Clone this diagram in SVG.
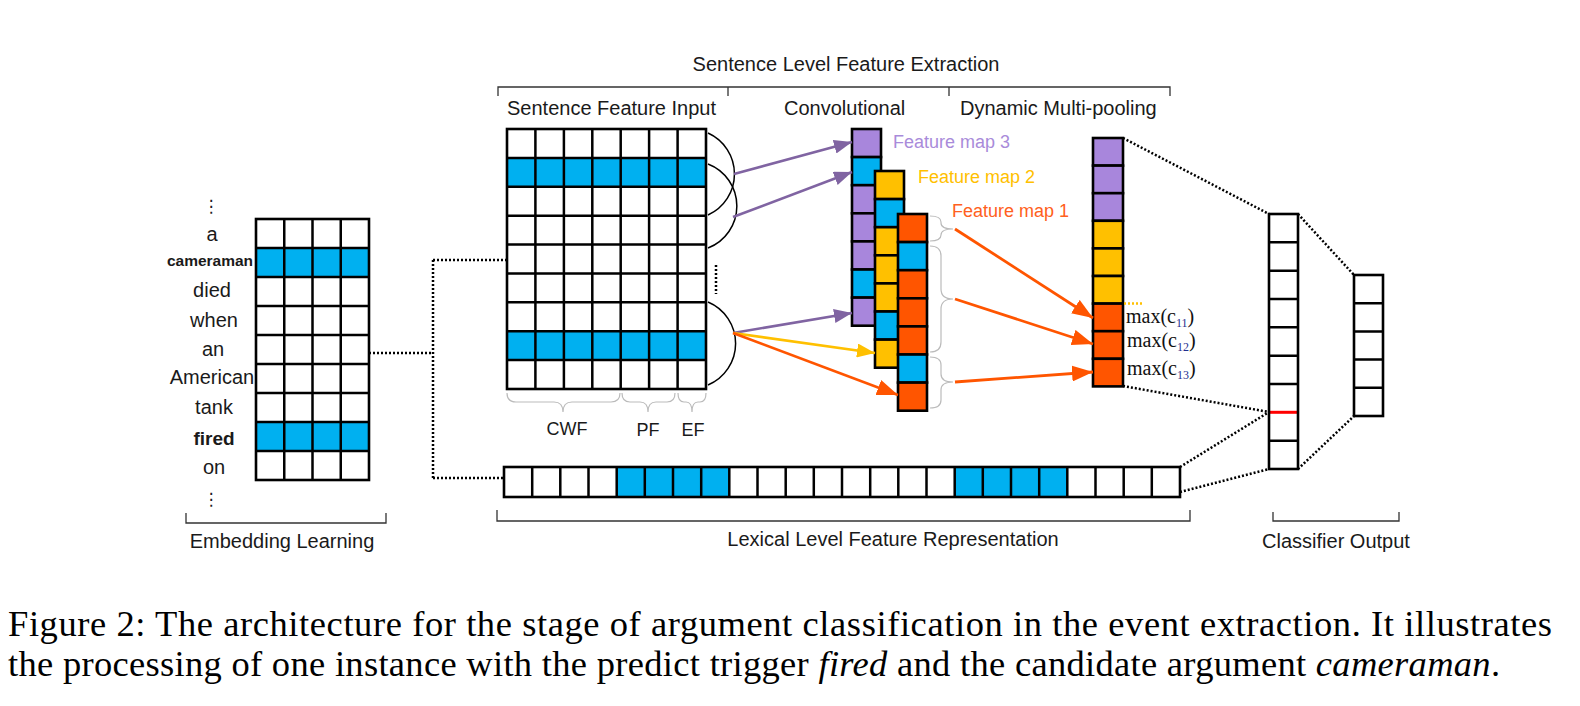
<svg xmlns="http://www.w3.org/2000/svg" width="1580" height="706" viewBox="0 0 1580 706">
<style>
.cell{stroke:#000;stroke-width:2.6}
.grid{stroke:#000;stroke-width:2.5;fill:none}
.lbl{font-family:"Liberation Sans",Arial,sans-serif;font-size:20px;fill:#1a1a1a}
.word{font-family:"Liberation Sans",Arial,sans-serif;font-size:20px;fill:#1a1a1a;text-anchor:middle}
.fm{font-family:"Liberation Sans",Arial,sans-serif;font-size:18px}
.mx{font-family:"Liberation Serif","Times New Roman",serif;font-size:20px;fill:#111}
.sub{font-size:12px;fill:#1f2f8f}
.dot{stroke:#000;stroke-width:2.5;stroke-dasharray:2 2;fill:none}
.br{stroke:#333;stroke-width:1.3;fill:none}
.gb{stroke:#bbb;stroke-width:1.2;fill:none}
.arc{stroke:#000;stroke-width:1.5;fill:none}
.cap{font-family:"Liberation Serif","Times New Roman",serif;font-size:36.5px;fill:#000}
.P{fill:#A886DC}.B{fill:#00B0F0}.Y{fill:#FFC000}.O{fill:#FF5500}.W{fill:#fff}
</style>
<defs>
<marker id="ahP" markerUnits="userSpaceOnUse" markerWidth="18" markerHeight="14" refX="18" refY="7" orient="auto" viewBox="0 0 18 14"><path d="M0,0L18,7L0,14z" fill="#8064A2"/></marker>
<marker id="ahY" markerUnits="userSpaceOnUse" markerWidth="18" markerHeight="14" refX="18" refY="7" orient="auto" viewBox="0 0 18 14"><path d="M0,0L18,7L0,14z" fill="#FFC000"/></marker>
<marker id="ahO" markerUnits="userSpaceOnUse" markerWidth="21" markerHeight="16" refX="21" refY="8" orient="auto" viewBox="0 0 21 16"><path d="M0,0L21,8L0,16z" fill="#FF5500"/></marker>
</defs>
<rect width="1580" height="706" fill="#fff"/>

<g id="embedding">
<rect x="256" y="219" width="113" height="261" class="W"/>
<rect x="256" y="248" width="113" height="29" class="B"/>
<rect x="256" y="422" width="113" height="29" class="B"/>
<path class="grid" d="M284.25,219V480M312.5,219V480M340.75,219V480M256,248H369M256,277H369M256,306H369M256,335H369M256,364H369M256,393H369M256,422H369M256,451H369"/>
<rect x="256" y="219" width="113" height="261" fill="none" class="cell"/>
<text class="word" x="211" y="212" style="font-family:'DejaVu Sans',sans-serif;font-size:17px">⋮</text>
<text class="word" x="212" y="241">a</text>
<text class="word" x="210" y="266" style="font-weight:bold;font-size:15.5px">cameraman</text>
<text class="word" x="212" y="297">died</text>
<text class="word" x="214" y="327">when</text>
<text class="word" x="213" y="356">an</text>
<text class="word" x="212" y="384">American</text>
<text class="word" x="214" y="414">tank</text>
<text class="word" x="214" y="445" style="font-weight:bold;font-size:19px">fired</text>
<text class="word" x="214" y="474">on</text>
<text class="word" x="211" y="505" style="font-family:'DejaVu Sans',sans-serif;font-size:17px">⋮</text>
</g>

<g id="sentence-input">
<rect x="507" y="129" width="199" height="260" class="W"/>
<rect x="507" y="157.9" width="199" height="28.9" class="B"/>
<rect x="507" y="331.2" width="199" height="28.9" class="B"/>
<path class="grid" d="M535.4,129V389M563.9,129V389M592.3,129V389M620.7,129V389M649.1,129V389M677.6,129V389M507,157.9H706M507,186.8H706M507,215.7H706M507,244.6H706M507,273.4H706M507,302.3H706M507,331.2H706M507,360.1H706"/>
<rect x="507" y="129" width="199" height="260" fill="none" class="cell"/>
<path class="gb" d="M507,393Q507,402 516,402L554,402Q563,402 563,412Q563,402 572,402L611,402Q620,402 620,393"/>
<path class="gb" d="M622,393Q622,402 630,402L640,402Q648,402 648,412Q648,402 656,402L667,402Q675,402 675,393"/>
<path class="gb" d="M678,393Q678,402 684,402L686,402Q692,402 692,412Q692,402 698,402L700,402Q706,402 706,393"/>
<text class="lbl" x="567" y="435" text-anchor="middle" style="font-size:18px">CWF</text>
<text class="lbl" x="648" y="436" text-anchor="middle" style="font-size:18px">PF</text>
<text class="lbl" x="693" y="436" text-anchor="middle" style="font-size:18px">EF</text>
</g>

<g id="feature-map-3">
<rect class="cell P" x="852" y="129" width="29" height="28.1"/>
<rect class="cell B" x="852" y="157.1" width="29" height="28.1"/>
<rect class="cell P" x="852" y="185.2" width="29" height="28.1"/>
<rect class="cell P" x="852" y="213.3" width="29" height="28.1"/>
<rect class="cell P" x="852" y="241.4" width="29" height="28.1"/>
<rect class="cell B" x="852" y="269.5" width="29" height="28.1"/>
<rect class="cell P" x="852" y="297.6" width="29" height="28.1"/>
<text class="fm" x="893" y="148" fill="#A98BDA">Feature map 3</text>
</g>
<g id="feature-map-2">
<rect class="cell Y" x="875" y="171" width="29" height="28.1"/>
<rect class="cell B" x="875" y="199.1" width="29" height="28.1"/>
<rect class="cell Y" x="875" y="227.2" width="29" height="28.1"/>
<rect class="cell Y" x="875" y="255.3" width="29" height="28.1"/>
<rect class="cell Y" x="875" y="283.4" width="29" height="28.1"/>
<rect class="cell B" x="875" y="311.5" width="29" height="28.1"/>
<rect class="cell Y" x="875" y="339.6" width="29" height="28.1"/>
<text class="fm" x="918" y="183" fill="#FFC000">Feature map 2</text>
</g>
<g id="feature-map-1">
<rect class="cell O" x="898" y="214" width="29" height="28.1"/>
<rect class="cell B" x="898" y="242.1" width="29" height="28.1"/>
<rect class="cell O" x="898" y="270.2" width="29" height="28.1"/>
<rect class="cell O" x="898" y="298.3" width="29" height="28.1"/>
<rect class="cell O" x="898" y="326.4" width="29" height="28.1"/>
<rect class="cell B" x="898" y="354.5" width="29" height="28.1"/>
<rect class="cell O" x="898" y="382.6" width="29" height="28.1"/>
<text class="fm" x="952" y="217" fill="#FF6020">Feature map 1</text>
<path class="gb" d="M930,216Q941,216 941,222L941,223Q941,229 953,229Q941,229 941,235Q941,241 930,241"/>
<path class="gb" d="M930,246Q941,246 941,256L941,289Q941,299 953,299Q941,299 941,309L941,342Q941,352 930,352"/>
<path class="gb" d="M930,357Q941,357 941,365L941,374Q941,382 953,382Q941,382 941,390L941,400Q941,408 930,408"/>
</g>

<g id="pooling">
<rect class="cell P" x="1093" y="138" width="30" height="27.6"/>
<rect class="cell P" x="1093" y="165.6" width="30" height="27.6"/>
<rect class="cell P" x="1093" y="193.2" width="30" height="27.6"/>
<rect class="cell Y" x="1093" y="220.8" width="30" height="27.6"/>
<rect class="cell Y" x="1093" y="248.4" width="30" height="27.6"/>
<rect class="cell Y" x="1093" y="276" width="30" height="27.6"/>
<rect class="cell O" x="1093" y="303.6" width="30" height="27.6"/>
<rect class="cell O" x="1093" y="331.2" width="30" height="27.6"/>
<rect class="cell O" x="1093" y="358.8" width="30" height="27.6"/>
<text class="mx" x="1126" y="323">max(c<tspan class="sub" dy="4">11</tspan><tspan dy="-4">)</tspan></text>
<text class="mx" x="1127" y="347">max(c<tspan class="sub" dy="4">12</tspan><tspan dy="-4">)</tspan></text>
<text class="mx" x="1127" y="375">max(c<tspan class="sub" dy="4">13</tspan><tspan dy="-4">)</tspan></text>
</g>

<g id="lexical">
<rect x="504" y="467" width="676" height="30" class="W"/>
<rect x="616.7" y="467" width="112.6" height="30" class="B"/>
<rect x="954.7" y="467" width="112.6" height="30" class="B"/>
<path class="grid" d="M532.2,467v30M560.3,467v30M588.5,467v30M616.7,467v30M644.8,467v30M673,467v30M701.2,467v30M729.3,467v30M757.5,467v30M785.7,467v30M813.8,467v30M842,467v30M870.2,467v30M898.3,467v30M926.5,467v30M954.7,467v30M982.8,467v30M1011,467v30M1039.2,467v30M1067.3,467v30M1095.5,467v30M1123.7,467v30M1151.8,467v30"/>
<rect x="504" y="467" width="676" height="30" fill="none" class="cell"/>
</g>

<g id="classifier-hidden">
<rect x="1269" y="214" width="29" height="255" class="W"/>
<path class="grid" d="M1269,242.3h29M1269,270.7h29M1269,299h29M1269,327.3h29M1269,355.7h29M1269,384h29M1269,440.7h29"/>
<path d="M1269,412.3h29" stroke="#FF0000" stroke-width="3"/>
<rect x="1269" y="214" width="29" height="255" fill="none" class="cell"/>
</g>
<g id="classifier-output">
<rect x="1354" y="275" width="29" height="141" class="W"/>
<path class="grid" d="M1354,303.2h29M1354,331.4h29M1354,359.6h29M1354,387.8h29"/>
<rect x="1354" y="275" width="29" height="141" fill="none" class="cell"/>
</g>

<g id="brackets">
<path class="br" d="M498,96V87H1170V96M728,87V96M949,87V96"/>
<text class="lbl" x="846" y="71" text-anchor="middle">Sentence Level Feature Extraction</text>
<text class="lbl" x="507" y="115">Sentence Feature Input</text>
<text class="lbl" x="784" y="115">Convolutional</text>
<text class="lbl" x="960" y="115">Dynamic Multi-pooling</text>
<path class="br" d="M186,513V523H386V513"/>
<text class="lbl" x="282" y="548" text-anchor="middle">Embedding Learning</text>
<path class="br" d="M497,510V521H1190V510"/>
<text class="lbl" x="893" y="546" text-anchor="middle">Lexical Level Feature Representation</text>
<path class="br" d="M1273,512V521H1399V512"/>
<text class="lbl" x="1336" y="548" text-anchor="middle">Classifier Output</text>
</g>

<g id="connectors">
<path class="dot" d="M369,353H433M433,260V478M433,260H507M433,478H504"/>
<path class="dot" d="M1123,138L1269,214M1123,386L1269,412M1180,467L1269,412M1180,492L1269,469M1298,214L1354,275M1298,469L1354,416"/>
<path class="dot" d="M1124,303.6H1142" style="stroke:#FFC000"/>
<path class="dot" d="M716,265V294"/>
<path class="arc" d="M708,133A45,45 0 0 1 708,215"/>
<path class="arc" d="M708,164A45,45 0 0 1 708,248"/>
<path class="arc" d="M708,302A45,45 0 0 1 708,385"/>
<line x1="734" y1="174" x2="852" y2="142" stroke="#8064A2" stroke-width="2.6" marker-end="url(#ahP)"/>
<line x1="733" y1="217" x2="852" y2="172" stroke="#8064A2" stroke-width="2.6" marker-end="url(#ahP)"/>
<line x1="733" y1="333" x2="852" y2="313" stroke="#8064A2" stroke-width="2.6" marker-end="url(#ahP)"/>
<line x1="733" y1="333" x2="875" y2="353" stroke="#FFC000" stroke-width="2.6" marker-end="url(#ahY)"/>
<line x1="733" y1="333" x2="898" y2="395" stroke="#FF5500" stroke-width="2.6" marker-end="url(#ahO)"/>
<line x1="955" y1="229" x2="1093" y2="318" stroke="#FF5500" stroke-width="2.8" marker-end="url(#ahO)"/>
<line x1="955" y1="299" x2="1093" y2="344" stroke="#FF5500" stroke-width="2.8" marker-end="url(#ahO)"/>
<line x1="955" y1="382" x2="1093" y2="372" stroke="#FF5500" stroke-width="2.8" marker-end="url(#ahO)"/>
</g>

<g id="caption">
<text class="cap" x="8" y="636" textLength="1544" lengthAdjust="spacing">Figure 2: The architecture for the stage of argument classification in the event extraction. It illustrates</text>
<text class="cap" x="8" y="676" textLength="1492" lengthAdjust="spacing">the processing of one instance with the predict trigger <tspan font-style="italic">fired</tspan> and the candidate argument <tspan font-style="italic">cameraman</tspan>.</text>
</g>
</svg>
